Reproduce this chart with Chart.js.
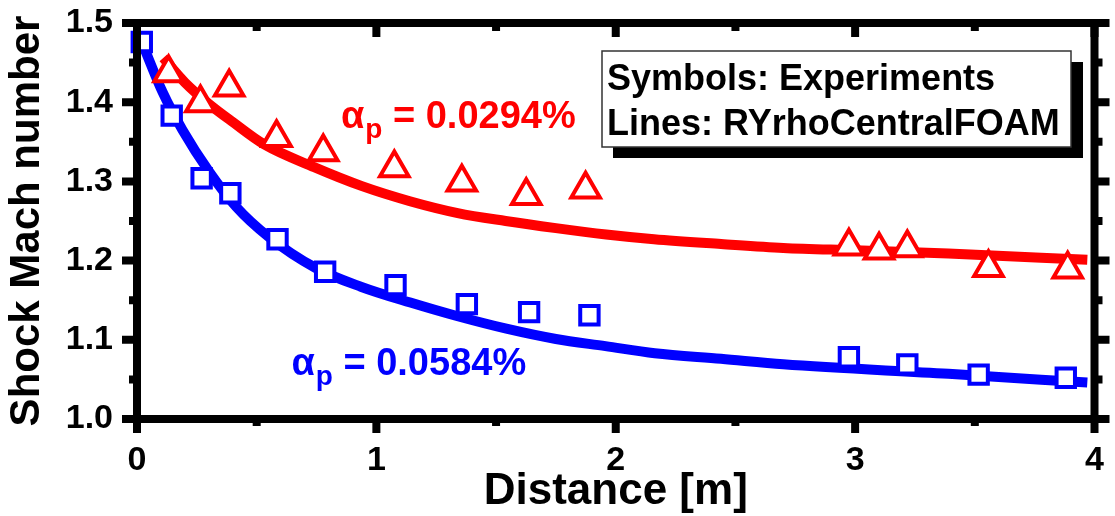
<!DOCTYPE html>
<html>
<head>
<meta charset="utf-8">
<title>Shock Mach number vs distance</title>
<script src="https://cdn.jsdelivr.net/npm/chart.js@4.4.1/dist/chart.umd.min.js"></script>
<style>
  html, body { margin: 0; padding: 0; background: #fff; }
  #wrap { width: 1115px; height: 516px; }
</style>
</head>
<body>
<div id="wrap"><canvas id="mach"></canvas></div>
<script>
const FONT = '"Liberation Sans", Arial, Helvetica, sans-serif';

// experiments, alpha_p = 0.0294 %  (triangles)
const expRedX = [0.132, 0.265, 0.385, 0.583, 0.778, 1.075, 1.357, 1.626, 1.874, 2.974, 3.10, 3.218, 3.557, 3.888];
const expRedY = [1.437, 1.399, 1.419, 1.355, 1.337, 1.317, 1.299, 1.282, 1.290, 1.218, 1.213, 1.216, 1.191, 1.189];

// experiments, alpha_p = 0.0584 %  (squares)
const expBlueX = [0.02, 0.145, 0.27, 0.39, 0.587, 0.786, 1.08, 1.378, 1.638, 1.89, 2.974, 3.218, 3.516, 3.88];
const expBlueY = [1.476, 1.383, 1.304, 1.285, 1.227, 1.186, 1.169, 1.145, 1.135, 1.131, 1.078, 1.069, 1.056, 1.052];

// RYrhoCentralFOAM results
const simRedX = [0.11, 0.2, 0.3, 0.4, 0.53, 0.74, 0.94, 1.14, 1.34, 1.54, 1.75, 1.96, 2.16, 2.44, 2.70, 3.0, 3.39, 3.97];
const simRedY = [1.456, 1.425, 1.398, 1.375, 1.347, 1.318, 1.294, 1.275, 1.260, 1.250, 1.241, 1.233, 1.227, 1.221, 1.216, 1.213, 1.209, 1.201];

const simBlueX = [0.02, 0.108, 0.19, 0.302, 0.414, 0.55, 0.745, 0.935, 1.142, 1.336, 1.543, 1.75, 1.957, 2.163, 2.44, 2.70, 3.39, 3.97];
const simBlueY = [1.476, 1.412, 1.365, 1.312, 1.268, 1.230, 1.191, 1.167, 1.147, 1.130, 1.114, 1.101, 1.092, 1.083, 1.076, 1.069, 1.057, 1.046];

const xTickLabels = ['0', '1', '2', '3', '4'];
const yTickLabels = ['1.0', '1.1', '1.2', '1.3', '1.4', '1.5'];
const legendLines = ['Symbols: Experiments', 'Lines: RYrhoCentralFOAM'];

// alpha_p labels, anchored in data units
const alphaLabels = [
  { value: '0.0294%', color: '#ff0000', x: 0.852, y: 1.367 },
  { value: '0.0584%', color: '#0000ff', x: 0.645, y: 1.056 }
];

const RED = '#ff0000';
const BLUE = '#0000ff';

function points(xs, ys) {
  return xs.map((x, i) => ({ x: x, y: ys[i] }));
}

function drawAlpha(ctx, x0, base, color, value) {
  ctx.fillStyle = color;
  ctx.textAlign = 'left';
  ctx.textBaseline = 'alphabetic';
  ctx.font = 'bold 38px ' + FONT;
  ctx.fillText('\u03b1', x0, base);
  let x = x0 + ctx.measureText('\u03b1').width + 1;
  ctx.font = 'bold 28px ' + FONT;
  ctx.fillText('p', x, base + 10);
  x += ctx.measureText('p').width;
  ctx.font = 'bold 38px ' + FONT;
  ctx.fillText(' = ' + value, x, base);
}

// box frame with ticks: outward on bottom/left/right, inward on top
const framePlugin = {
  id: 'frame',
  afterDatasetsDraw(chart) {
    const { ctx, chartArea: a, scales } = chart;
    const xs = scales.x, ys = scales.y;
    ctx.save();
    ctx.strokeStyle = '#000';
    ctx.lineWidth = 8;
    ctx.lineCap = 'butt';
    ctx.strokeRect(a.left, a.top, a.right - a.left, a.bottom - a.top);

    ctx.beginPath();
    for (let i = 0; i < xTickLabels.length; i++) {
      const v = Number(xTickLabels[i]);
      const px = xs.getPixelForValue(v);
      ctx.moveTo(px, a.bottom); ctx.lineTo(px, a.bottom + 14);
      ctx.moveTo(px, a.top); ctx.lineTo(px, a.top + 14);
      if (i < xTickLabels.length - 1) {
        const m = xs.getPixelForValue((v + Number(xTickLabels[i + 1])) / 2);
        ctx.moveTo(m, a.bottom); ctx.lineTo(m, a.bottom + 7);
        ctx.moveTo(m, a.top); ctx.lineTo(m, a.top + 8);
      }
    }
    for (let i = 0; i < yTickLabels.length; i++) {
      const v = Number(yTickLabels[i]);
      const py = ys.getPixelForValue(v);
      ctx.moveTo(a.left - 15, py); ctx.lineTo(a.left, py);
      ctx.moveTo(a.right, py); ctx.lineTo(a.right + 15, py);
      if (i < yTickLabels.length - 1) {
        const m = ys.getPixelForValue((v + Number(yTickLabels[i + 1])) / 2);
        ctx.moveTo(a.left - 8, m); ctx.lineTo(a.left, m);
        ctx.moveTo(a.right, m); ctx.lineTo(a.right + 8, m);
      }
    }
    ctx.stroke();
    ctx.restore();
  },
  afterDraw(chart) {
    const { ctx, scales } = chart;
    ctx.save();
    alphaLabels.forEach(l => {
      drawAlpha(ctx, scales.x.getPixelForValue(l.x), scales.y.getPixelForValue(l.y), l.color, l.value);
    });

    // legend box with drop shadow
    ctx.fillStyle = '#000';
    ctx.fillRect(613, 62, 470, 96);
    ctx.fillStyle = '#fff';
    ctx.fillRect(602, 51, 469, 96);
    ctx.strokeStyle = '#333';
    ctx.lineWidth = 1.5;
    ctx.strokeRect(602, 51, 469, 96);
    ctx.fillStyle = '#000';
    ctx.font = 'bold 36px ' + FONT;
    ctx.textAlign = 'left';
    ctx.textBaseline = 'alphabetic';
    ctx.fillText(legendLines[0], 607, 90);
    ctx.fillText(legendLines[1], 607, 135);
    ctx.restore();
  }
};

new Chart(document.getElementById('mach'), {
  data: {
    datasets: [
      {
        type: 'line',
        data: points(simRedX, simRedY),
        borderColor: RED,
        borderWidth: 10,
        pointRadius: 0,
        cubicInterpolationMode: 'monotone',
        fill: false,
        order: 3
      },
      {
        type: 'line',
        data: points(simBlueX, simBlueY),
        borderColor: BLUE,
        borderWidth: 10,
        pointRadius: 0,
        cubicInterpolationMode: 'monotone',
        fill: false,
        order: 2
      },
      {
        type: 'scatter',
        data: points(expRedX, expRedY),
        pointStyle: 'triangle',
        pointRadius: 16.5,
        pointBorderWidth: 4,
        pointBorderColor: RED,
        pointBackgroundColor: '#fff',
        clip: false,
        order: 1
      },
      {
        type: 'scatter',
        data: points(expBlueX, expBlueY),
        pointStyle: 'rect',
        pointRadius: 13,
        pointBorderWidth: 4,
        pointBorderColor: BLUE,
        pointBackgroundColor: '#fff',
        clip: false,
        order: 0
      }
    ]
  },
  options: {
    responsive: true,
    maintainAspectRatio: false,
    animation: false,
    layout: { padding: { top: 23, right: 11, left: 0, bottom: 0 } },
    plugins: {
      legend: { display: false },
      tooltip: { enabled: false }
    },
    scales: {
      x: {
        type: 'linear',
        position: 'bottom',
        min: 0,
        max: 4,
        // fixed axis band; labels may overhang the ends
        afterFit: s => { s.height = 97; s.paddingLeft = 0; s.paddingRight = 0; },
        grid: { display: false, drawTicks: false },
        border: { display: false },
        ticks: {
          stepSize: 1,
          maxRotation: 0,
          padding: 21,
          color: '#000',
          font: { family: FONT, size: 34, weight: 'bold' },
          callback: (v, i) => xTickLabels[i]
        },
        title: {
          display: true,
          text: 'Distance [m]',
          color: '#000',
          padding: 0,
          font: { family: FONT, size: 44, weight: 'bold', lineHeight: 1.1 }
        }
      },
      y: {
        type: 'linear',
        position: 'left',
        min: 1.0,
        max: 1.5,
        afterFit: s => { s.width = 137; s.paddingTop = 0; s.paddingBottom = 0; },
        grid: { display: false, drawTicks: false },
        border: { display: false },
        ticks: {
          stepSize: 0.1,
          padding: 24,
          color: '#000',
          font: { family: FONT, size: 34, weight: 'bold' },
          callback: (v, i) => yTickLabels[i]
        },
        title: {
          display: true,
          text: 'Shock Mach number',
          color: '#000',
          padding: { top: 2, bottom: 0 },
          font: { family: FONT, size: 42, weight: 'bold', lineHeight: 1.2 }
        }
      }
    }
  },
  plugins: [framePlugin]
});
</script>
</body>
</html>
